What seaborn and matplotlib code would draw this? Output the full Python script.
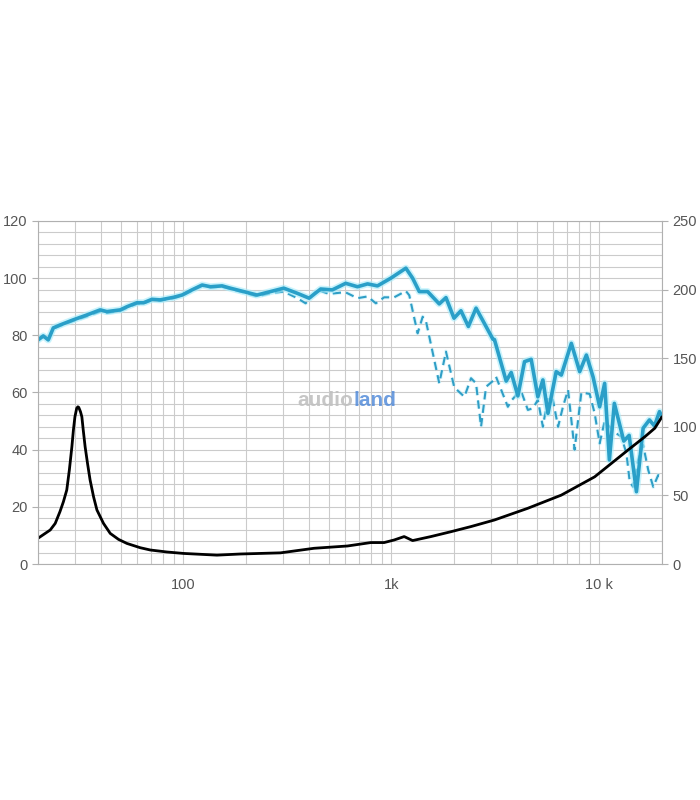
import numpy as np
import pandas as pd
import matplotlib
matplotlib.use("Agg")
import matplotlib.pyplot as plt
import matplotlib.patheffects as pe
from matplotlib.ticker import FixedLocator, NullFormatter, LogLocator
import seaborn as sns

# on-axis SPL (solid), dB
spl_freq = [20, 21.2, 22.4, 23.7, 25.5, 29.5, 34.3, 39.8, 42.9, 49.7, 53.5, 59.8, 64.4,
            70.6, 77.4, 89.7, 98.5, 110, 123, 135, 153.5, 168, 195, 226, 262, 304, 353,
            402, 457, 520, 603, 687, 768, 857, 994, 1174, 1265, 1362, 1494, 1699, 1830,
            2000, 2160, 2345, 2553, 2750, 3074, 3130, 3564, 3767, 4057, 4366, 4700, 5060,
            5350, 5660, 6200, 6560, 7330, 8040, 8660, 9320, 10030, 10600, 11170, 11800,
            13100, 13900, 15070, 16230, 17400, 18400, 19450, 20000]
spl_db = [78.4, 79.8, 78.4, 82.6, 83.6, 85.4, 87.1, 88.9, 88.3, 88.9, 90.0, 91.4, 91.4,
          92.6, 92.4, 93.3, 94.1, 95.9, 97.6, 97.0, 97.3, 96.5, 95.3, 94.1, 95.3, 96.5, 94.7,
          93.0, 96.2, 95.9, 98.2, 97.0, 98.0, 97.3, 100.0, 103.5, 100.0, 95.3, 95.3, 91.0, 93.2,
          86.0, 88.6, 83.1, 89.5, 85.2, 78.7, 78.5, 64.0, 67.0, 58.8, 70.8, 71.6, 58.5,
          64.4, 52.7, 67.3, 66.1, 77.2, 67.3, 73.1, 65.5, 55.0, 63.2, 36.4, 56.2,
          43.0, 45.0, 25.3, 47.5, 50.4, 48.3, 53.3, 51.5]

# off-axis SPL (dashed), dB
off_freq = [20, 21.2, 22.4, 23.7, 25.5, 29.5, 34.3, 39.8, 42.9, 49.7, 53.5, 59.8, 64.4,
            70.6, 77.4, 89.7, 98.5, 110, 123, 135, 153.5, 168, 195, 226, 262, 304, 353,
            387, 440, 501, 600, 687, 768, 842, 923, 1031, 1174, 1219, 1337, 1414, 1468,
            1699, 1830, 2006, 2244, 2415, 2553, 2698, 2852, 3130, 3185, 3630, 3800, 3980,
            4213, 4530, 4790, 5060, 5350, 5660, 5980, 6330, 6680, 7070, 7600, 8190, 8980,
            9490, 10030, 10600, 11200, 12070, 12760, 13490, 13990, 14520, 15350, 16230,
            17170, 18150, 19180, 20000]
off_db = [78.2, 79.5, 78.2, 82.3, 83.3, 85.0, 86.6, 88.3, 87.8, 88.5, 89.6, 91.0, 91.1,
          92.3, 92.1, 93.0, 93.8, 95.6, 97.3, 96.8, 97.0, 96.2, 95.0, 93.6, 94.7, 95.3, 93.0,
          91.2, 95.9, 94.5, 95.1, 93.0, 93.6, 91.2, 93.3, 93.3, 95.5, 94.0, 80.7, 86.5, 84.8,
          63.2, 74.3, 61.8, 58.5, 65.0, 63.2, 48.0, 62.0, 64.5, 65.5, 55.0, 57.4, 59.1,
          60.3, 53.9, 54.5, 57.4, 48.0, 58.5, 57.4, 48.0, 55.0, 60.9, 40.0, 60.0, 59.5,
          52.7, 42.2, 50.0, 48.0, 45.7, 44.5, 38.7, 28.8, 27.0, 36.4, 41.6,
          32.9, 27.0, 31.1, 30.5]

# impedance (black)
imp_freq = [20, 22.9, 24.2, 25.5, 26.5, 27.5, 28.3, 29.1, 29.6, 30.1, 30.7, 31.1, 31.4,
            32.0, 32.5, 33.0, 33.7, 34.6, 35.6, 37.0, 38.4, 41.3, 44.5, 48.8, 53.5, 62.0,
            69.3, 83.4, 100, 145, 188, 293, 425, 615, 796, 923, 1031, 1152,
            1265, 1550, 1934, 2415, 3130, 4530, 6560, 9490, 11420, 13740, 16530, 18460, 20000]
imp_val = [9.0, 11.9, 14.2, 18.3, 21.8, 25.9, 32.9, 41.0, 46.9, 51.5, 54.5, 55.0, 54.8,
           53.3, 51.5, 46.9, 41.0, 35.2, 29.4, 23.5, 18.9, 14.2, 10.7, 8.6, 7.2, 5.7,
           4.9, 4.2, 3.7, 3.1, 3.5, 3.9, 5.5, 6.3, 7.5, 7.5, 8.4, 9.6,
           8.2, 9.6, 11.3, 13.1, 15.4, 19.5, 24.1, 30.5, 35.2, 39.9, 44.5, 47.5, 51.5]

x_ticks = [100, 1000, 10000]
x_labels = ["100", "1k", "10 k"]
left_ticks = [0, 20, 40, 60, 80, 100, 120]
right_ticks = [0, 50, 100, 150, 200, 250]

sns.set_style("white")
plt.rcParams['font.family'] = ['Liberation Sans', 'DejaVu Sans']

fig = plt.figure(figsize=(7, 8), dpi=100)
ax = fig.add_axes([38 / 700, 1 - 564 / 800, 624 / 700, 343 / 800])

spl = pd.DataFrame({"f": spl_freq, "db": spl_db})
off = pd.DataFrame({"f": off_freq, "db": off_db})
imp = pd.DataFrame({"f": imp_freq, "z": imp_val})

sns.lineplot(data=off, x="f", y="db", ax=ax, color="#2f9ec6", lw=1.5,
             linestyle=(0, (4, 2.5)), estimator=None, sort=False,
             path_effects=[pe.Stroke(linewidth=3, foreground="#bdf0fb", alpha=0.5), pe.Normal()])
sns.lineplot(data=spl, x="f", y="db", ax=ax, color="#2a9fc8", lw=2.6,
             estimator=None, sort=False,
             path_effects=[pe.Stroke(linewidth=5, foreground="#a6ecfb", alpha=0.6), pe.Normal()])
sns.lineplot(data=imp, x="f", y="z", ax=ax, color="black", lw=2.0,
             estimator=None, sort=False)

ax.set_xscale("log")
ax.set_xlim(20, 20000)
ax.set_ylim(0, 120)
ax.set_xlabel("")
ax.set_ylabel("")

ax.xaxis.set_major_locator(FixedLocator(x_ticks))
ax.set_xticklabels(x_labels)
ax.xaxis.set_minor_locator(LogLocator(base=10, subs=np.arange(2, 10)))
ax.xaxis.set_minor_formatter(NullFormatter())
ax.set_yticks(left_ticks)
ax.yaxis.set_minor_locator(FixedLocator(np.arange(0, 121, 4)))

ax.grid(True, which="both", axis="both", color="#cbcbcb", lw=0.8)
ax.set_axisbelow(True)
for s in ax.spines.values():
    s.set_color("#b0b0b0")
    s.set_linewidth(0.8)
ax.tick_params(axis="both", which="major", colors="#555555", labelsize=10.5, length=4, color="#b0b0b0")
ax.tick_params(axis="y", which="minor", length=0)
ax.tick_params(axis="x", which="minor", length=0)
ax.tick_params(axis="x", which="major", length=4, pad=6)

ax2 = ax.twinx()
ax2.set_ylim(0, 250)
ax2.set_yticks(right_ticks)
ax2.tick_params(axis="y", colors="#555555", labelsize=10.5, length=4, color="#b0b0b0")
for s in ax2.spines.values():
    s.set_visible(False)

# watermark
ax.text(0.505, 0.478, "audio", transform=ax.transAxes, ha="right", va="center",
        fontsize=15, fontweight="bold", color="#c0c0c0", alpha=0.9)
ax.text(0.505, 0.478, "land", transform=ax.transAxes, ha="left", va="center",
        fontsize=15, fontweight="bold", color="#4a86d8", alpha=0.8)

fig.savefig("out.png", dpi=100, facecolor="white")
